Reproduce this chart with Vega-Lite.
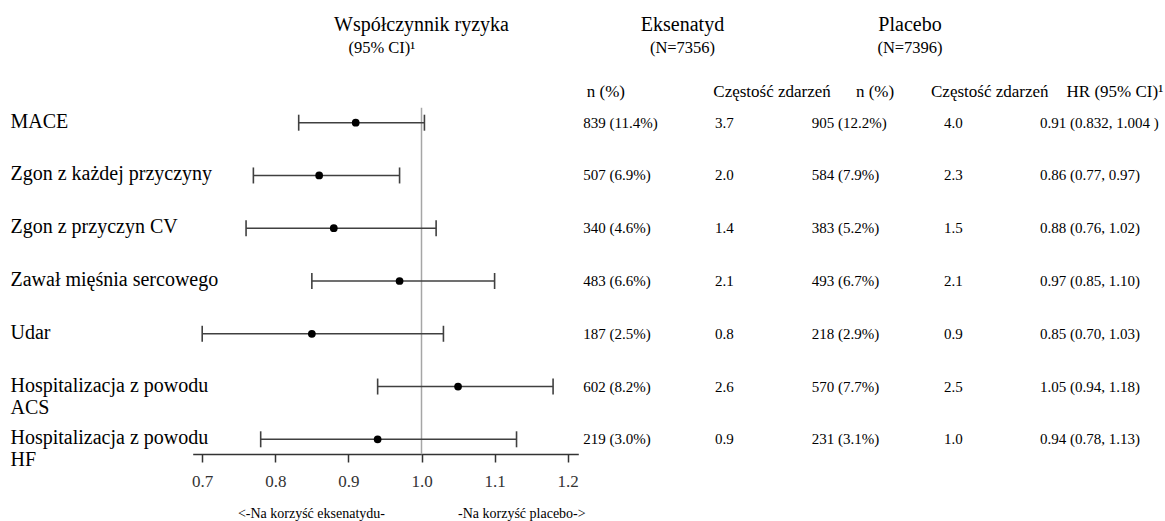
{
  "$schema": "https://vega.github.io/schema/vega-lite/v6.json",
  "width": 1165,
  "height": 454,
  "autosize": {"type": "none"},
  "padding": {"left": 0, "top": 0, "right": 0, "bottom": 67},
  "background": "white",
  "config": {"view": {"stroke": null}, "font": "Liberation Serif", "text": {"font": "Liberation Serif", "color": "black"}},
  "datasets": {
    "rows": [
      {"event": "MACE", "hr": 0.91, "lo": 0.832, "hi": 1.004, "n_eks": "839 (11.4%)", "rate_eks": 3.7, "n_pla": "905 (12.2%)", "rate_pla": 4.0, "hr_txt": "0.91 (0.832, 1.004 )"},
      {"event": "Zgon z każdej przyczyny", "hr": 0.86, "lo": 0.77, "hi": 0.97, "n_eks": "507 (6.9%)", "rate_eks": 2.0, "n_pla": "584 (7.9%)", "rate_pla": 2.3, "hr_txt": "0.86 (0.77, 0.97)"},
      {"event": "Zgon z przyczyn CV", "hr": 0.88, "lo": 0.76, "hi": 1.02, "n_eks": "340 (4.6%)", "rate_eks": 1.4, "n_pla": "383 (5.2%)", "rate_pla": 1.5, "hr_txt": "0.88 (0.76, 1.02)"},
      {"event": "Zawał mięśnia sercowego", "hr": 0.97, "lo": 0.85, "hi": 1.10, "n_eks": "483 (6.6%)", "rate_eks": 2.1, "n_pla": "493 (6.7%)", "rate_pla": 2.1, "hr_txt": "0.97 (0.85, 1.10)"},
      {"event": "Udar", "hr": 0.85, "lo": 0.70, "hi": 1.03, "n_eks": "187 (2.5%)", "rate_eks": 0.8, "n_pla": "218 (2.9%)", "rate_pla": 0.9, "hr_txt": "0.85 (0.70, 1.03)"},
      {"event": "Hospitalizacja z powodu ACS", "hr": 1.05, "lo": 0.94, "hi": 1.18, "n_eks": "602 (8.2%)", "rate_eks": 2.6, "n_pla": "570 (7.7%)", "rate_pla": 2.5, "hr_txt": "1.05 (0.94, 1.18)"},
      {"event": "Hospitalizacja z powodu HF", "hr": 0.94, "lo": 0.78, "hi": 1.13, "n_eks": "219 (3.0%)", "rate_eks": 0.9, "n_pla": "231 (3.1%)", "rate_pla": 1.0, "hr_txt": "0.94 (0.78, 1.13)"}
    ],
    "colheads": [
      {"col": "n_eks", "kind": "n", "label": "n (%)"},
      {"col": "rate_eks", "kind": "rate", "label": "Częstość zdarzeń"},
      {"col": "n_pla", "kind": "n", "label": "n (%)"},
      {"col": "rate_pla", "kind": "rate", "label": "Częstość zdarzeń"},
      {"col": "hr_txt", "kind": "n", "label": "HR (95% CI)¹"}
    ],
    "groups": [
      {"grp": "Eksenatyd", "sub": "(N=7356)"},
      {"grp": "Placebo", "sub": "(N=7396)"}
    ],
    "hrhead": [{"title": "Współczynnik ryzyka", "sub": "(95% CI)¹"}],
    "favour": [
      {"side": "eks", "label": "<-Na korzyść eksenatydu-"},
      {"side": "pla", "label": "-Na korzyść placebo->"}
    ]
  },
  "layer": [
    {
      "data": {"values": [{}]},
      "mark": {"type": "rule", "color": "#a6a6a6", "strokeWidth": 1.5, "yOffset": -15, "y2Offset": 15},
      "encoding": {
        "x": {"datum": 1, "type": "quantitative", "scale": {"domain": [0.687, 1.2145], "range": [192.7, 578.3], "nice": false, "zero": false}, "axis": null},
        "y": {"datum": "MACE", "type": "nominal", "scale": {"type": "point", "domain": ["MACE", "Zgon z każdej przyczyny", "Zgon z przyczyn CV", "Zawał mięśnia sercowego", "Udar", "Hospitalizacja z powodu ACS", "Hospitalizacja z powodu HF"], "range": [122.7, 439.3], "padding": 0}, "axis": null},
        "y2": {"datum": "Hospitalizacja z powodu HF"}
      }
    },
    {
      "data": {"name": "rows"},
      "mark": {"type": "rule", "color": "#404040", "strokeWidth": 1.6},
      "encoding": {
        "x": {"field": "lo", "type": "quantitative", "scale": {"domain": [0.687, 1.2145], "range": [192.7, 578.3], "nice": false, "zero": false},
          "axis": {"orient": "bottom", "values": [0.7, 0.8, 0.9, 1.0, 1.1, 1.2], "format": ".1f", "title": null, "grid": false, "tickSize": 8, "tickWidth": 1.5, "tickColor": "#333333", "domainColor": "#333333", "domainWidth": 1.5, "labelFont": "Liberation Serif", "labelFontSize": 17, "labelColor": "#333333", "labelPadding": 11, "labelFlush": false, "labelOverlap": false}},
        "x2": {"field": "hi"},
        "y": {"field": "event", "type": "nominal", "scale": {"type": "point", "domain": ["MACE", "Zgon z każdej przyczyny", "Zgon z przyczyn CV", "Zawał mięśnia sercowego", "Udar", "Hospitalizacja z powodu ACS", "Hospitalizacja z powodu HF"], "range": [122.7, 439.3], "padding": 0}, "axis": null}
      }
    },
    {
      "data": {"name": "rows"},
      "mark": {"type": "tick", "orient": "vertical", "size": 16, "thickness": 1.6, "color": "#404040", "opacity": 1},
      "encoding": {
        "x": {"field": "lo", "type": "quantitative", "scale": {"domain": [0.687, 1.2145], "range": [192.7, 578.3], "nice": false, "zero": false}, "axis": null},
        "y": {"field": "event", "type": "nominal", "scale": {"type": "point", "domain": ["MACE", "Zgon z każdej przyczyny", "Zgon z przyczyn CV", "Zawał mięśnia sercowego", "Udar", "Hospitalizacja z powodu ACS", "Hospitalizacja z powodu HF"], "range": [122.7, 439.3], "padding": 0}, "axis": null}
      }
    },
    {
      "data": {"name": "rows"},
      "mark": {"type": "tick", "orient": "vertical", "size": 16, "thickness": 1.6, "color": "#404040", "opacity": 1},
      "encoding": {
        "x": {"field": "hi", "type": "quantitative", "scale": {"domain": [0.687, 1.2145], "range": [192.7, 578.3], "nice": false, "zero": false}, "axis": null},
        "y": {"field": "event", "type": "nominal", "scale": {"type": "point", "domain": ["MACE", "Zgon z każdej przyczyny", "Zgon z przyczyn CV", "Zawał mięśnia sercowego", "Udar", "Hospitalizacja z powodu ACS", "Hospitalizacja z powodu HF"], "range": [122.7, 439.3], "padding": 0}, "axis": null}
      }
    },
    {
      "data": {"name": "rows"},
      "mark": {"type": "point", "filled": true, "color": "black", "size": 60, "opacity": 1},
      "encoding": {
        "x": {"field": "hr", "type": "quantitative", "scale": {"domain": [0.687, 1.2145], "range": [192.7, 578.3], "nice": false, "zero": false}, "axis": null},
        "y": {"field": "event", "type": "nominal", "scale": {"type": "point", "domain": ["MACE", "Zgon z każdej przyczyny", "Zgon z przyczyn CV", "Zawał mięśnia sercowego", "Udar", "Hospitalizacja z powodu ACS", "Hospitalizacja z powodu HF"], "range": [122.7, 439.3], "padding": 0},
          "axis": {"orient": "left", "title": null, "domain": false, "ticks": false, "tickSize": 0, "grid": false, "labelAlign": "left", "labelPadding": -10, "labelFont": "Liberation Serif", "labelFontSize": 20, "labelColor": "black", "labelLimit": 0, "labelBaseline": "alphabetic", "labelOffset": 4.5, "labelLineHeight": 22, "labelOverlap": false, "labelExpr": "indexof(datum.value, 'Hospitalizacja z powodu ') == 0 ? ['Hospitalizacja z powodu', slice(datum.value, 24)] : datum.value"}}
      }
    },
    {
      "data": {"name": "rows"},
      "transform": [{"fold": ["n_eks", "n_pla", "hr_txt"], "as": ["col", "txt"]}],
      "mark": {"type": "text", "align": "left", "baseline": "middle", "fontSize": 15, "color": "black"},
      "encoding": {
        "x": {"field": "col", "type": "nominal", "scale": {"type": "point", "domain": ["n_eks", "n_pla", "hr_txt"], "range": [583.3, 1040], "padding": 0}, "axis": null},
        "y": {"field": "event", "type": "nominal", "scale": {"type": "point", "domain": ["MACE", "Zgon z każdej przyczyny", "Zgon z przyczyn CV", "Zawał mięśnia sercowego", "Udar", "Hospitalizacja z powodu ACS", "Hospitalizacja z powodu HF"], "range": [122.7, 439.3], "padding": 0}, "axis": null},
        "text": {"field": "txt", "type": "nominal"}
      }
    },
    {
      "data": {"name": "rows"},
      "transform": [{"fold": ["rate_eks", "rate_pla"], "as": ["col", "rate"]}],
      "mark": {"type": "text", "align": "left", "baseline": "middle", "fontSize": 15, "color": "black"},
      "encoding": {
        "x": {"field": "col", "type": "nominal", "scale": {"type": "point", "domain": ["rate_eks", "rate_pla"], "range": [715, 944], "padding": 0}, "axis": null},
        "y": {"field": "event", "type": "nominal", "scale": {"type": "point", "domain": ["MACE", "Zgon z każdej przyczyny", "Zgon z przyczyn CV", "Zawał mięśnia sercowego", "Udar", "Hospitalizacja z powodu ACS", "Hospitalizacja z powodu HF"], "range": [122.7, 439.3], "padding": 0}, "axis": null},
        "text": {"field": "rate", "type": "quantitative", "format": ".1f"}
      }
    },
    {
      "data": {"name": "colheads"},
      "transform": [{"filter": "datum.kind == 'n'"}],
      "mark": {"type": "text", "align": "right", "baseline": "alphabetic", "fontSize": 17, "color": "black"},
      "encoding": {
        "x": {"field": "col", "type": "nominal", "scale": {"type": "point", "domain": ["n_eks", "n_pla", "hr_txt"], "range": [625, 1163.3], "padding": 0}, "axis": null},
        "y": {"datum": "col", "type": "nominal", "scale": {"type": "point", "domain": ["title", "sub", "gap", "col"], "range": [30.7, 96.7], "padding": 0}, "axis": null},
        "text": {"field": "label", "type": "nominal"}
      }
    },
    {
      "data": {"name": "colheads"},
      "transform": [{"filter": "datum.kind == 'rate'"}],
      "mark": {"type": "text", "align": "left", "baseline": "alphabetic", "fontSize": 17, "color": "black"},
      "encoding": {
        "x": {"field": "col", "type": "nominal", "scale": {"type": "point", "domain": ["rate_eks", "rate_pla"], "range": [713.3, 931], "padding": 0}, "axis": null},
        "y": {"datum": "col", "type": "nominal", "scale": {"type": "point", "domain": ["title", "sub", "gap", "col"], "range": [30.7, 96.7], "padding": 0}, "axis": null},
        "text": {"field": "label", "type": "nominal"}
      }
    },
    {
      "data": {"name": "groups"},
      "mark": {"type": "text", "align": "center", "baseline": "alphabetic", "fontSize": 20, "color": "black"},
      "encoding": {
        "x": {"field": "grp", "type": "nominal", "scale": {"type": "point", "domain": ["Eksenatyd", "Placebo"], "range": [682.5, 910], "padding": 0}, "axis": null},
        "y": {"datum": "title", "type": "nominal", "scale": {"type": "point", "domain": ["title", "sub", "gap", "col"], "range": [30.7, 96.7], "padding": 0}, "axis": null},
        "text": {"field": "grp", "type": "nominal"}
      }
    },
    {
      "data": {"name": "groups"},
      "mark": {"type": "text", "align": "center", "baseline": "alphabetic", "fontSize": 16.5, "color": "black"},
      "encoding": {
        "x": {"field": "grp", "type": "nominal", "scale": {"type": "point", "domain": ["Eksenatyd", "Placebo"], "range": [682.5, 910], "padding": 0}, "axis": null},
        "y": {"datum": "sub", "type": "nominal", "scale": {"type": "point", "domain": ["title", "sub", "gap", "col"], "range": [30.7, 96.7], "padding": 0}, "axis": null},
        "text": {"field": "sub", "type": "nominal"}
      }
    },
    {
      "data": {"name": "hrhead"},
      "mark": {"type": "text", "align": "center", "baseline": "alphabetic", "fontSize": 20, "color": "black"},
      "encoding": {
        "x": {"datum": 1, "type": "quantitative", "scale": {"domain": [0.687, 1.2145], "range": [192.7, 578.3], "nice": false, "zero": false}, "axis": null},
        "y": {"datum": "title", "type": "nominal", "scale": {"type": "point", "domain": ["title", "sub", "gap", "col"], "range": [30.7, 96.7], "padding": 0}, "axis": null},
        "text": {"field": "title", "type": "nominal"}
      }
    },
    {
      "data": {"name": "hrhead"},
      "mark": {"type": "text", "align": "left", "baseline": "alphabetic", "fontSize": 16.5, "color": "black"},
      "encoding": {
        "x": {"datum": 0.9, "type": "quantitative", "scale": {"domain": [0.687, 1.2145], "range": [192.7, 578.3], "nice": false, "zero": false}, "axis": null},
        "y": {"datum": "sub", "type": "nominal", "scale": {"type": "point", "domain": ["title", "sub", "gap", "col"], "range": [30.7, 96.7], "padding": 0}, "axis": null},
        "text": {"field": "sub", "type": "nominal"}
      }
    },
    {
      "data": {"name": "favour"},
      "transform": [{"filter": "datum.side == 'eks'"}],
      "mark": {"type": "text", "align": "right", "baseline": "alphabetic", "fontSize": 14, "color": "black"},
      "encoding": {
        "x": {"datum": 0.95, "type": "quantitative", "scale": {"domain": [0.687, 1.2145], "range": [192.7, 578.3], "nice": false, "zero": false}, "axis": null},
        "y": {"datum": "foot", "type": "nominal", "scale": {"type": "point", "domain": ["foot"], "range": [518, 518], "padding": 0}, "axis": null},
        "text": {"field": "label", "type": "nominal"}
      }
    },
    {
      "data": {"name": "favour"},
      "transform": [{"filter": "datum.side == 'pla'"}],
      "mark": {"type": "text", "align": "left", "baseline": "alphabetic", "fontSize": 14, "color": "black"},
      "encoding": {
        "x": {"datum": 1.05, "type": "quantitative", "scale": {"domain": [0.687, 1.2145], "range": [192.7, 578.3], "nice": false, "zero": false}, "axis": null},
        "y": {"datum": "foot", "type": "nominal", "scale": {"type": "point", "domain": ["foot"], "range": [518, 518], "padding": 0}, "axis": null},
        "text": {"field": "label", "type": "nominal"}
      }
    }
  ],
  "resolve": {"scale": {"x": "independent", "y": "independent"}}
}
